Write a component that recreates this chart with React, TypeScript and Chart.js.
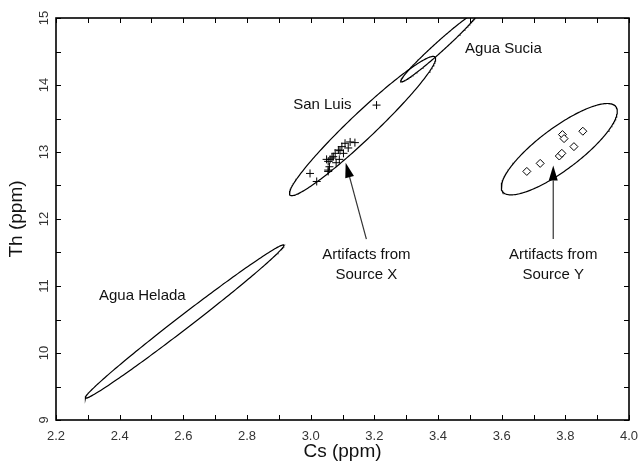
import { useEffect, useRef } from "react";
import { Chart, registerables } from "chart.js";

Chart.register(...registerables);

// ---- tick values ----
const xMinorTicks = [2.2, 2.3, 2.4, 2.5, 2.6, 2.7, 2.8, 2.9, 3.0, 3.1, 3.2, 3.3, 3.4, 3.5, 3.6, 3.7, 3.8, 3.9, 4.0];
const yMinorTicks = [9, 9.5, 10, 10.5, 11, 11.5, 12, 12.5, 13, 13.5, 14, 14.5, 15];

// ---- San Luis samples (crosses) ----
const sanLuisCs = [3.207, 2.998, 3.019, 3.055, 3.059, 3.055, 3.061, 3.071, 3.077, 3.087, 3.098, 3.108, 3.124, 3.139, 3.118, 3.103, 3.09, 3.08, 3.05, 3.055, 3.067, 3.092];
const sanLuisTh = [13.7, 12.68, 12.56, 12.73, 12.78, 12.86, 12.89, 12.93, 12.98, 13.03, 13.08, 13.13, 13.15, 13.14, 13.06, 12.98, 12.89, 12.84, 12.89, 12.71, 12.91, 13.02];

// ---- Source Y artifacts (diamonds) ----
const sourceYCs = [3.679, 3.721, 3.791, 3.796, 3.855, 3.827, 3.781, 3.789];
const sourceYTh = [12.71, 12.83, 13.26, 13.2, 13.31, 13.08, 12.94, 12.98];

// ---- confidence ellipses: centre, major-axis tip, minor-axis end ----
const ellipseNames = ["Agua Helada", "San Luis", "Agua Sucia", "Source Y"];
const ellipseCenterCs = [2.604, 3.163, 3.4045, 3.781];
const ellipseCenterTh = [10.47, 13.388, 14.569, 13.042];
const ellipseTipCs = [2.916, 3.391, 3.526, 3.959];
const ellipseTipTh = [11.612, 14.418, 15.09, 13.676];
const ellipseSideCs = [2.591, 3.135, 3.394, 3.742];
const ellipseSideTh = [10.548, 13.528, 14.624, 13.293];

// ---- text labels (data coordinates) ----
const labelTexts = ["Agua Sucia", "San Luis", "Agua Helada"];
const labelCs = [3.485, 2.945, 2.335];
const labelTh = [14.545, 13.7, 10.851];

const arrowTexts = [["Artifacts from", "Source X"], ["Artifacts from", "Source Y"]];
const arrowTailCs = [3.175, 3.762];
const arrowTailTh = [11.7, 11.7];
const arrowTipCs = [3.11, 3.762];
const arrowTipTh = [12.84, 12.8];
const arrowTextTh = [11.463, 11.164];

function ellipseOutline(i: number) {
  const pts: { x: number; y: number }[] = [];
  const n = 240;
  const cx = ellipseCenterCs[i];
  const cy = ellipseCenterTh[i];
  const ux = ellipseTipCs[i] - cx;
  const uy = ellipseTipTh[i] - cy;
  const vx = ellipseSideCs[i] - cx;
  const vy = ellipseSideTh[i] - cy;
  for (let k = 0; k <= n; k++) {
    const t = (2 * Math.PI * k) / n;
    pts.push({ x: cx + Math.cos(t) * ux + Math.sin(t) * vx, y: cy + Math.cos(t) * uy + Math.sin(t) * vy });
  }
  return pts;
}

const FONT = "'Liberation Sans', Arial, Helvetica, sans-serif";

const framePlugin = {
  id: "frameTicks",
  afterDraw(chart: any) {
    const { ctx, chartArea } = chart;
    const { left, right, top, bottom } = chartArea;
    const xs = chart.scales.x;
    const ys = chart.scales.y;
    ctx.save();
    ctx.strokeStyle = "#000";
    ctx.lineWidth = 1;
    const tl = 5;
    ctx.beginPath();
    for (const v of xMinorTicks) {
      const px = Math.round(xs.getPixelForValue(v)) + 0.5;
      ctx.moveTo(px, bottom);
      ctx.lineTo(px, bottom - tl);
      ctx.moveTo(px, top);
      ctx.lineTo(px, top + tl);
    }
    for (const v of yMinorTicks) {
      const py = Math.round(ys.getPixelForValue(v)) + 0.5;
      ctx.moveTo(left, py);
      ctx.lineTo(left + tl, py);
      ctx.moveTo(right, py);
      ctx.lineTo(right - tl, py);
    }
    ctx.stroke();
    ctx.lineWidth = 1.6;
    ctx.strokeRect(left, top, right - left, bottom - top);
    ctx.restore();
  },
};

const annotationPlugin = {
  id: "annotations",
  afterDatasetsDraw(chart: any) {
    const { ctx } = chart;
    const xs = chart.scales.x;
    const ys = chart.scales.y;
    ctx.save();
    ctx.fillStyle = "#111";
    ctx.font = `15px ${FONT}`;
    ctx.textBaseline = "middle";
    ctx.textAlign = "left";
    labelTexts.forEach((t, i) => {
      ctx.fillText(t, xs.getPixelForValue(labelCs[i]), ys.getPixelForValue(labelTh[i]));
    });
    ctx.textAlign = "center";
    arrowTexts.forEach((lines, i) => {
      const tx = xs.getPixelForValue(arrowTailCs[i]);
      lines.forEach((line, j) => {
        ctx.fillText(line, tx, ys.getPixelForValue(arrowTextTh[j]));
      });
      const x0 = tx;
      const y0 = ys.getPixelForValue(arrowTailTh[i]);
      const x1 = xs.getPixelForValue(arrowTipCs[i]);
      const y1 = ys.getPixelForValue(arrowTipTh[i]);
      const ang = Math.atan2(y1 - y0, x1 - x0);
      const hl = 15;
      const hw = 4.5;
      const bx = x1 - Math.cos(ang) * hl;
      const by = y1 - Math.sin(ang) * hl;
      ctx.strokeStyle = "#333";
      ctx.lineWidth = 1.2;
      ctx.beginPath();
      ctx.moveTo(x0, y0);
      ctx.lineTo(bx, by);
      ctx.stroke();
      ctx.fillStyle = "#000";
      ctx.beginPath();
      ctx.moveTo(x1, y1);
      ctx.lineTo(bx + Math.sin(ang) * hw, by - Math.cos(ang) * hw);
      ctx.lineTo(bx - Math.sin(ang) * hw, by + Math.cos(ang) * hw);
      ctx.closePath();
      ctx.fill();
      ctx.fillStyle = "#111";
    });
    ctx.restore();
  },
};

export default function App() {
  const canvasRef = useRef<HTMLCanvasElement | null>(null);

  useEffect(() => {
    const canvas = canvasRef.current;
    if (!canvas) return;
    const ellipseSets = ellipseNames.map((name, i) => ({
      label: name,
      data: ellipseOutline(i),
      showLine: true,
      borderColor: "#000",
      borderWidth: 1.2,
      pointRadius: 0,
      fill: false,
      tension: 0,
      clip: 0,
    }));
    const chart = new Chart(canvas, {
      type: "scatter",
      data: {
        datasets: [
          ...ellipseSets,
          {
            label: "San Luis samples",
            data: sanLuisCs.map((x, i) => ({ x, y: sanLuisTh[i] })),
            pointStyle: "cross",
            pointRadius: 4,
            borderColor: "#000",
            borderWidth: 1,
            backgroundColor: "#000",
          },
          {
            label: "Source Y artifacts",
            data: sourceYCs.map((x, i) => ({ x, y: sourceYTh[i] })),
            pointStyle: "rectRot",
            pointRadius: 4,
            borderColor: "#000",
            borderWidth: 1,
            backgroundColor: "#fff",
          },
        ] as any,
      },
      options: {
        animation: false,
        responsive: false,
        devicePixelRatio: 1,
        layout: { padding: { top: 18, right: 10, left: 0, bottom: 0 } },
        plugins: { legend: { display: false }, tooltip: { enabled: false } },
        scales: {
          x: {
            type: "linear",
            min: 2.2,
            max: 4.0,
            grid: { display: false, drawTicks: false },
            border: { display: false },
            afterFit: (s: any) => {
              s.height = 48;
              s.paddingLeft = 0;
              s.paddingRight = 0;
            },
            ticks: {
              stepSize: 0.2,
              padding: 9,
              color: "#333",
              font: { family: FONT, size: 13 },
              maxRotation: 0,
              minRotation: 0,
              callback: (v: any) => Number(v).toFixed(1),
            },
            title: {
              display: true,
              text: "Cs (ppm)",
              color: "#111",
              font: { family: FONT, size: 19 },
              padding: { top: 0, bottom: 5 },
            },
          },
          y: {
            type: "linear",
            min: 9,
            max: 15,
            grid: { display: false, drawTicks: false },
            border: { display: false },
            afterFit: (s: any) => {
              s.width = 56;
              s.paddingTop = 0;
              s.paddingBottom = 0;
            },
            ticks: {
              stepSize: 1,
              padding: 4,
              color: "#333",
              crossAlign: "center",
              minRotation: 90,
              maxRotation: 90,
              font: { family: FONT, size: 13 },
            },
            title: {
              display: true,
              text: "Th (ppm)",
              color: "#111",
              font: { family: FONT, size: 19 },
              padding: { top: 5, bottom: 0 },
            },
          },
        },
      },
      plugins: [annotationPlugin, framePlugin],
    });
    return () => chart.destroy();
  }, []);

  return (
    <div style={{ position: "absolute", left: 0, top: 0, width: 639, height: 468, background: "#fff" }}>
      <canvas ref={canvasRef} width={639} height={468} style={{ width: 639, height: 468, display: "block" }} />
    </div>
  );
}
